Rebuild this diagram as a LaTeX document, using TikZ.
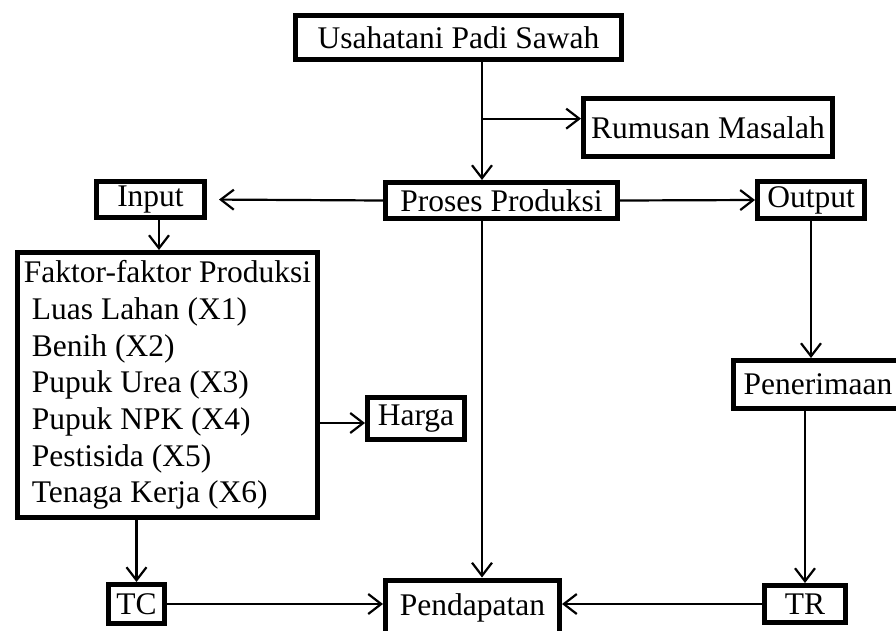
\documentclass[tikz,border=0pt]{standalone}
\usepackage{fontspec}
\setmainfont{Liberation Serif}
\usepackage{tikz}
\usetikzlibrary{arrows.meta,positioning,calc}
\tikzset{
  box/.style={rectangle, draw=black, line width=5pt, inner sep=0pt,
              align=center, font=\fontsize{31.5}{36.7}\selectfont},
  ar/.style={-{Straight Barb[length=13pt,width=20pt]}, line width=2.2pt},
}
\begin{document}
\begin{tikzpicture}[x=1pt,y=-1pt]
\useasboundingbox (0,0) rectangle (896,630);
\clip (0,0) rectangle (896,630);

% ---------- top ----------
\node[box,minimum width=326,minimum height=44] (usaha) at (458.5,37.5) {Usahatani Padi Sawah};
\node[box,minimum width=249,minimum height=58] (rumus) at (708,127.5) {Rumusan Masalah};
\node[box,minimum width=232,minimum height=36] (proses) at (501.5,200.5) {Proses Produksi};
\node[box,minimum width=108,minimum height=36] (input) at (150.5,199.5) {Input};
\node[box,minimum width=107,minimum height=37] (output) at (811,200) {Output};

\coordinate (pa) at ([xshift=-19.5pt]proses.south);
\coordinate (ua) at ([xshift=23.5pt]usaha.south);
\draw[ar] (ua) -- (ua |- proses.north);
\coordinate (br) at ($(ua)!0.48!(ua |- proses.north)$);
\draw[ar] (br) -- (br -| rumus.west);
\draw[ar,shorten >=12pt] (proses.west) -- (input.east);
\draw[ar] (proses.east) -- (output.west);

% ---------- left ----------
\node[box,align=left,minimum width=300,minimum height=265] (faktor) at (167.5,385)
  {Faktor-faktor Produksi\\\hspace{8pt}Luas Lahan (X1)\\\hspace{8pt}Benih (X2)\\\hspace{8pt}Pupuk Urea (X3)\\\hspace{8pt}Pupuk NPK (X4)\\\hspace{8pt}Pestisida (X5)\\\hspace{8pt}Tenaga Kerja (X6)};
\node[box,minimum width=97,minimum height=42] (harga) at (416,418.5) {Harga};
\node[box,minimum width=56,minimum height=39] (tc) at (136.5,604) {TC};

\coordinate (ia) at ([xshift=8.5pt]input.south);
\draw[ar] (ia) -- (ia |- faktor.north);
\coordinate (hg) at ([yshift=-4.5pt]harga.west);
\draw[ar] (hg -| faktor.east) -- (hg);
\draw[ar] (tc.north |- faktor.south) -- (tc.north);

% ---------- right ----------
\node[box,minimum width=169,minimum height=48] (pener) at (818,384.5) {Penerimaan};
\node[box,minimum width=81,minimum height=37] (tr) at (805,604) {TR};
\draw[ar] (output.south) -- (output.south |- pener.north);
\draw[ar] (pener.south -| tr.north) -- (tr.north);

% ---------- bottom ----------
\node[box,anchor=north,minimum width=174,text height=35.5pt,text depth=60pt] (pend) at (472.5,577.5) {Pendapatan};
\draw[ar] (pa) -- (pa |- pend.north);
\draw[ar] (tc.east) -- (tc.east -| pend.west);
\draw[ar] (tr.west) -- (tr.west -| pend.east);
\end{tikzpicture}
\end{document}
